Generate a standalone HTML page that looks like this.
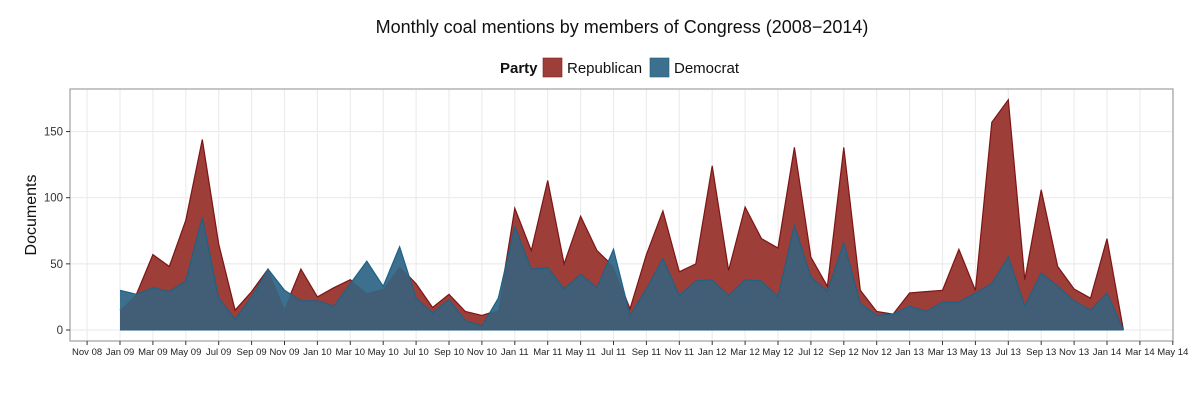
<!DOCTYPE html>
<html><head><meta charset="utf-8"><style>
body{margin:0;background:#fff;width:1200px;height:400px;overflow:hidden;font-family:"Liberation Sans",sans-serif}
</style></head><body>
<svg id="s" width="1200" height="400" xmlns="http://www.w3.org/2000/svg" font-family="Liberation Sans, sans-serif"></svg>
<script>
const R=[15,27,57,48,83,144,65,15,29,46,16,46,25,32,38,28,31,48,35,17,27,14,11,15,92,60,113,50,86,60,48,16,57,90,44,50,124,45,93,69,62,138,55,33,138,30,14,12,28,29,30,61,30,157,174,38,106,48,31,24,69,0];
const B=[30,27,32,29,37,85,24,8,25,46,30,22,22,18,35,52,33,63,24,13,23,7,3,24,78,46,47,31,42,32,61,11,31,54,26,37,38,26,38,37,25,79,40,29,66,20,11,12,18,14,21,21,28,35,55,18,43,33,22,15,28,0];
const X=i=>120+i*16.45, Y=v=>330-v*1.323;
const L=70,T=89,Rr=1173,Bt=341;
let h='';
h+=`<text x="622" y="33" font-size="18" text-anchor="middle" fill="#111">Monthly coal mentions by members of Congress (2008−2014)</text>`;
h+=`<text x="500" y="73" font-size="15" font-weight="bold" fill="#111">Party</text>`;
h+=`<rect x="543" y="58" width="19" height="19" fill="#9d3e39" stroke="#8b1a1a" stroke-width="0.6"/>`;
h+=`<text x="567" y="73" font-size="15" fill="#111">Republican</text>`;
h+=`<rect x="650" y="58" width="19" height="19" fill="#3d6f8f" stroke="#1f5f7f" stroke-width="0.6"/>`;
h+=`<text x="674" y="73" font-size="15" fill="#111">Democrat</text>`;
h+=`<text transform="translate(36,215) rotate(-90)" font-size="16" text-anchor="middle" fill="#111">Documents</text>`;
for(const v of [0,50,100,150]) h+=`<line x1="${L}" x2="${Rr}" y1="${Y(v)}" y2="${Y(v)}" stroke="#ececec" stroke-width="1.2"/>`;
const months=['Jan','Mar','May','Jul','Sep','Nov'];
for(let i=-2;i<=64;i+=2){const x=X(i);h+=`<line x1="${x}" x2="${x}" y1="${T}" y2="${Bt}" stroke="#ececec" stroke-width="1.2"/>`;}
const poly=(arr)=>{let p=`${X(0)},${Y(0)} `;arr.forEach((v,i)=>p+=`${X(i).toFixed(1)},${Y(v).toFixed(1)} `);p+=`${X(arr.length-1)},${Y(0)}`;return p;};
let mp=[[X(0),Y(0)]];
for(let i=0;i<R.length;i++){
 mp.push([X(i),Y(Math.min(R[i],B[i]))]);
 if(i<R.length-1){const d0=R[i]-B[i],d1=R[i+1]-B[i+1];if(d0*d1<0){const t=d0/(d0-d1);const v=R[i]+t*(R[i+1]-R[i]);mp.push([X(i+t),Y(v)]);}}
}
mp.push([X(R.length-1),Y(0)]);
const line=(arr)=>arr.map((v,i)=>`${X(i).toFixed(1)},${Y(v).toFixed(1)}`).join(' ');
h+=`<polygon points="${poly(R)}" fill="#9d3e39"/>`;
h+=`<polyline points="${line(R)}" fill="none" stroke="#7d1515" stroke-width="1.2"/>`;
h+=`<polygon points="${poly(B)}" fill="#3d6f8f"/>`;
h+=`<polygon points="${mp.map(p=>p[0].toFixed(1)+','+p[1].toFixed(1)).join(' ')}" fill="#425e77"/>`;
h+=`<polyline points="${line(B)}" fill="none" stroke="#1d6285" stroke-width="1.2"/>`;
h+=`<line x1="${X(0)}" x2="${X(61)}" y1="${Y(0)}" y2="${Y(0)}" stroke="#1d6285" stroke-width="1"/>`;
h+=`<rect x="${L}" y="${T}" width="${Rr-L}" height="${Bt-T}" fill="none" stroke="#a8a8a8" stroke-width="1.3"/>`;
for(const v of [0,50,100,150]){h+=`<line x1="${L-4}" x2="${L}" y1="${Y(v)}" y2="${Y(v)}" stroke="#333"/>`;h+=`<text x="${L-7}" y="${Y(v)+4}" font-size="11.5" text-anchor="end" fill="#333">${v}</text>`;}
for(let i=-2;i<=64;i+=2){const x=X(i);const m=((i%12)+12)%12;const yr=2009+Math.floor(i/12);
 h+=`<line x1="${x}" x2="${x}" y1="${Bt}" y2="${Bt+4}" stroke="#333"/>`;
 h+=`<text x="${x}" y="${Bt+14}" font-size="9.5" text-anchor="middle" fill="#222">${months[m/2]} ${String(yr%100).padStart(2,'0')}</text>`;}
document.getElementById('s').innerHTML=h;
</script>
</body></html>
